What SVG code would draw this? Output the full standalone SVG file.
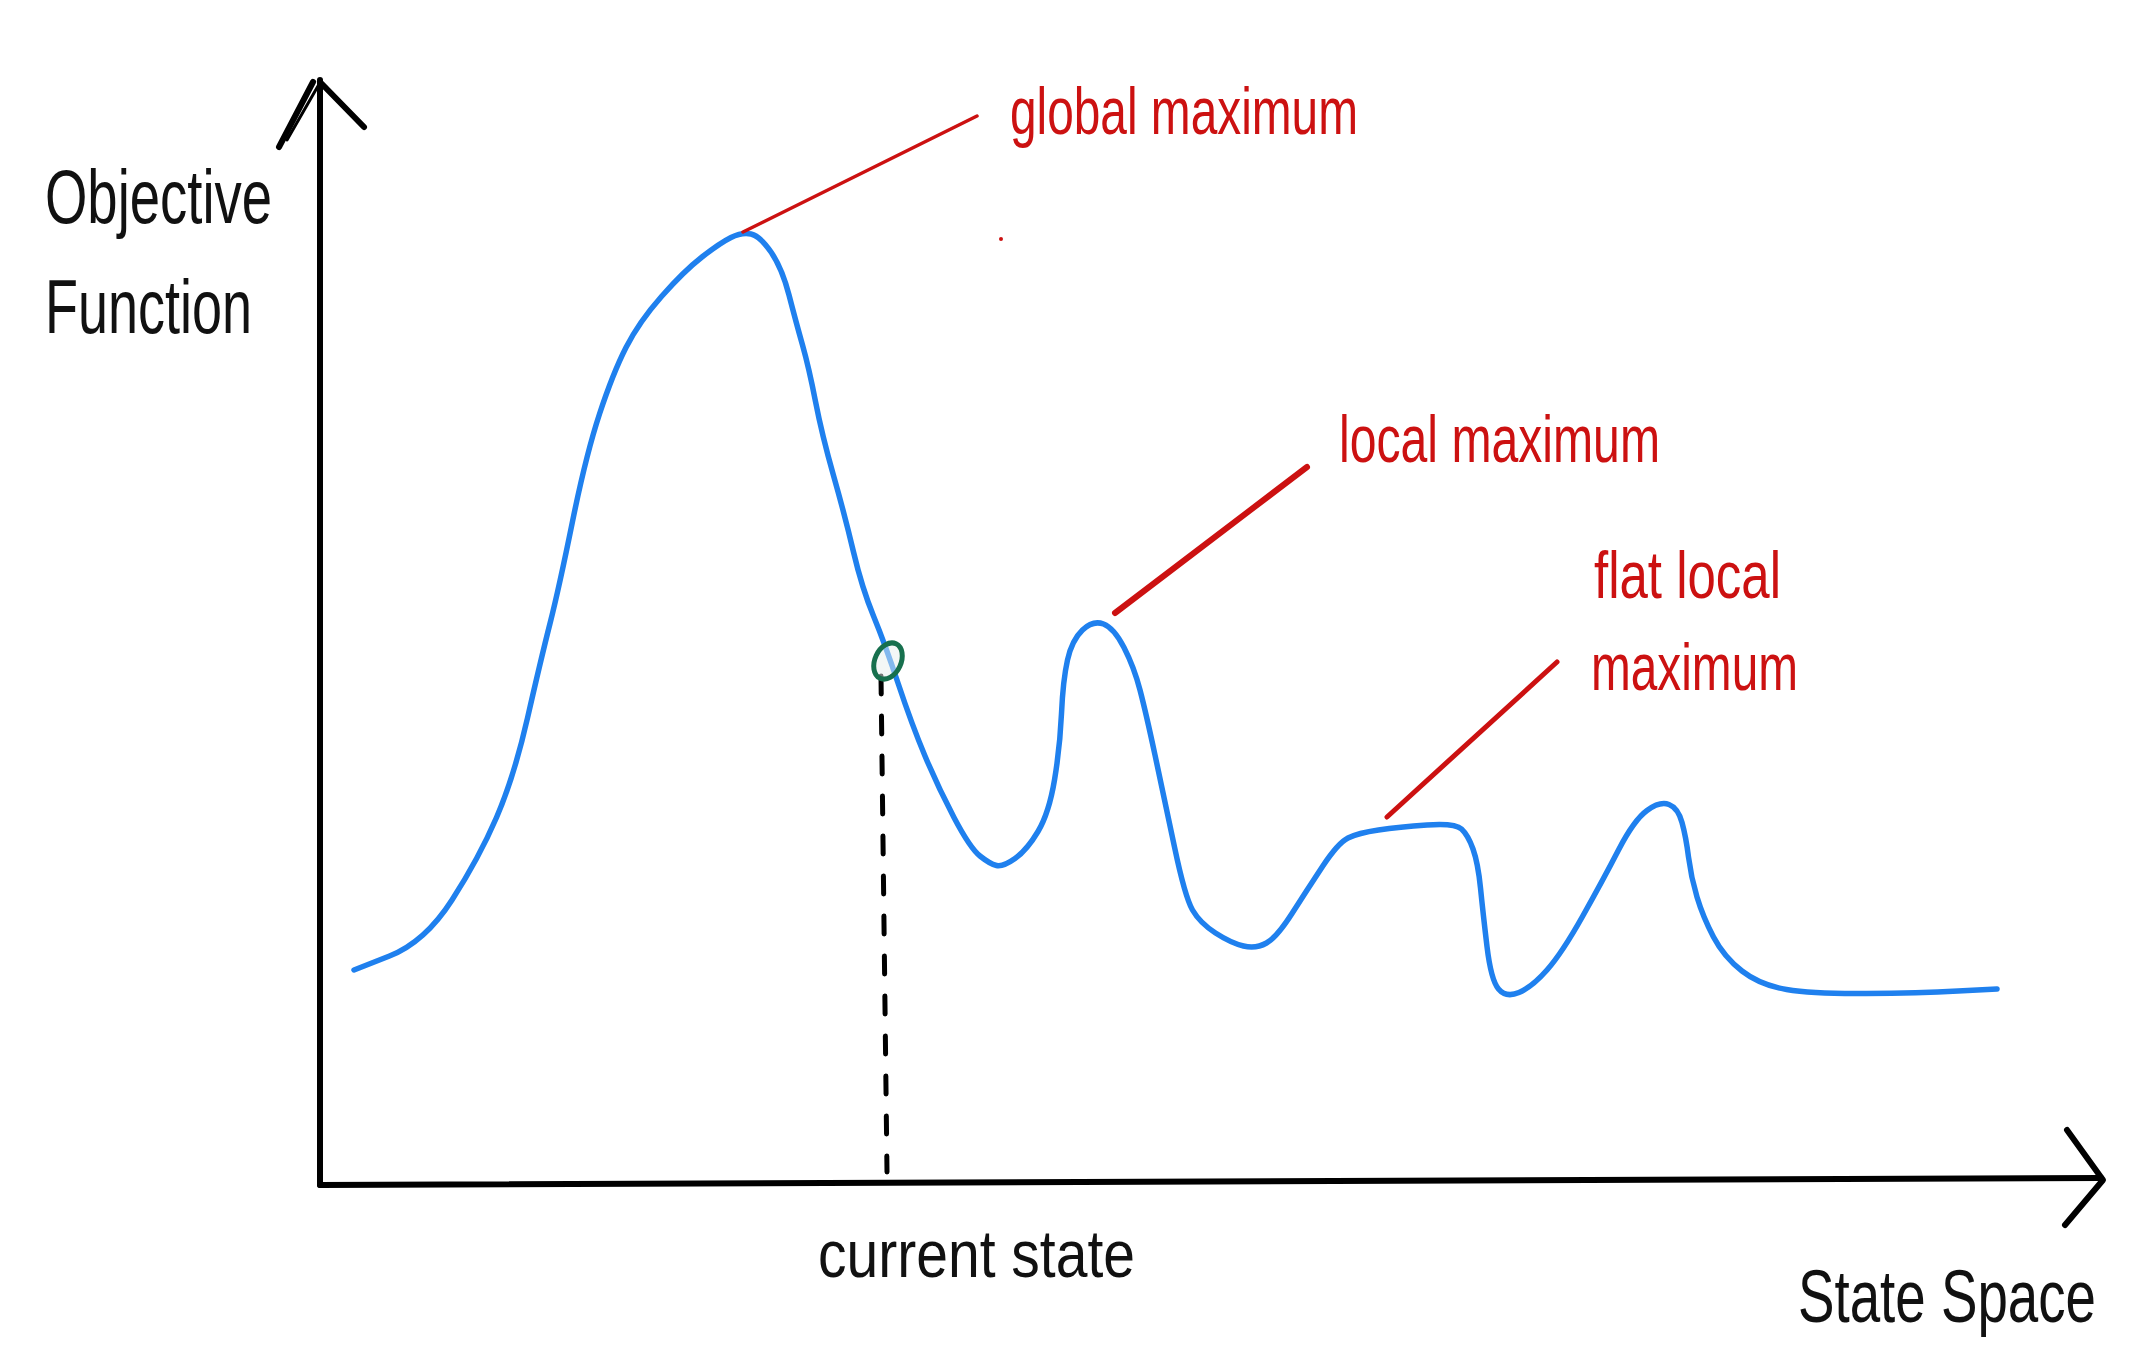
<svg xmlns="http://www.w3.org/2000/svg" width="2156" height="1354" viewBox="0 0 2156 1354">
<style>
.axis{fill:none;stroke:#000;stroke-width:6;stroke-linecap:round;stroke-linejoin:round}
.curve{fill:none;stroke:#1f80ee;stroke-width:5.5;stroke-linecap:round;stroke-linejoin:round}
.lead{fill:none;stroke:#cc1111;stroke-linecap:round}
.blk{font-family:"Liberation Sans Narrow","Liberation Sans",sans-serif;fill:#111}
.red{font-family:"Liberation Sans Narrow","Liberation Sans",sans-serif;fill:#cc1111}
</style>
<rect width="2156" height="1354" fill="#fff"/>
<g id="axes">
<path class="axis" d="M320,1185 L320,80"/>
<path class="axis" d="M313,82 L279,147"/>
<path d="M318,86 L287,140" fill="none" stroke="#000" stroke-width="3" stroke-linecap="round"/>
<path class="axis" d="M320,82 L364,127"/>
<path class="axis" d="M320,1185 L2101,1178"/>
<path class="axis" d="M2067,1130 L2103,1180 L2065,1225"/>
</g>
<g id="curve">
<path class="curve" d="M354,970 L389.5,956 Q425,942 452,900 Q479,858 496.5,817.5 Q514,777 527.5,718 Q541,659 550,623.5 Q559,588 572.5,521.5 Q586,455 599.5,414 Q613,373 626,347.5 Q639,322 661.5,296.5 Q684,271 702,257 Q720,243 731,237.5 Q742,232 751,234 Q760,236 771,252 Q782,268 789,295 Q796,322 802.5,345 Q809,368 815.5,401.5 Q822,435 833.5,475.5 Q845,516 853.5,552 Q862,588 873.5,616 Q885,644 898.5,684.5 Q912,725 925,756 Q938,787 954,817.5 Q970,848 980,856 Q990,864 996.5,865.5 Q1003,867 1015,858.5 Q1027,850 1038,831.5 Q1049,813 1054.5,780 Q1060,747 1061.5,713.5 Q1063,680 1067.5,660 Q1072,640 1082.5,630 Q1093,620 1103.5,624 Q1114,628 1124,647.5 Q1134,667 1140,690 Q1146,713 1155,755 Q1164,797 1174.5,847 Q1185,897 1192.5,910 Q1200,923 1215.5,933 Q1231,943 1243.5,946 Q1256,949 1266.5,943 Q1277,937 1292,913.5 Q1307,890 1322.5,866.5 Q1338,843 1348,838 Q1358,833 1378.5,830 Q1399,827 1427,825 Q1455,823 1461.5,829 Q1468,835 1473,849 Q1478,863 1480.5,888 Q1483,913 1487,946.5 Q1491,980 1498.5,989 Q1506,998 1519,992.5 Q1532,987 1547,970 Q1562,953 1582.5,916.5 Q1603,880 1618.5,850 Q1634,820 1647,810.5 Q1660,801 1669,804.5 Q1678,808 1682,822.5 Q1686,837 1688.5,857 Q1691,877 1697,897 Q1703,917 1713.5,937 Q1724,957 1742,971 Q1760,985 1786.5,989.5 Q1813,994 1866,993.5 Q1919,993 1958,991 L1997,989"/>
</g>
<g id="current-state-marker">
<line x1="881" y1="676" x2="887" y2="1172" stroke="#000" stroke-width="5" stroke-linecap="round" stroke-dasharray="18 22"/>
<ellipse cx="888" cy="661" rx="13" ry="19" transform="rotate(25 888 661)" fill="#e8f0ee" fill-opacity="0.5" stroke="#17704e" stroke-width="5"/>
</g>
<g id="connectors">
<line class="lead" x1="743" y1="232" x2="977" y2="116" stroke-width="3.5"/>
<line class="lead" x1="1115" y1="613" x2="1307" y2="467" stroke-width="6"/>
<line class="lead" x1="1387" y1="817" x2="1557" y2="662" stroke-width="5"/>
<circle cx="1001" cy="239" r="2" fill="#cc1111"/>
</g>
<g id="label-objective">
<text class="blk" x="45" y="223" font-size="76" textLength="227" lengthAdjust="spacingAndGlyphs">Objective</text>
<text class="blk" x="45" y="333" font-size="76" textLength="207" lengthAdjust="spacingAndGlyphs">Function</text>
</g>
<g id="label-global">
<text class="red" x="1010" y="134" font-size="66" textLength="348" lengthAdjust="spacingAndGlyphs">global maximum</text>
</g>
<g id="label-local">
<text class="red" x="1339" y="462" font-size="66" textLength="321" lengthAdjust="spacingAndGlyphs">local maximum</text>
</g>
<g id="label-flat">
<text class="red" x="1594" y="598" font-size="66" textLength="187" lengthAdjust="spacingAndGlyphs">flat local</text>
<text class="red" x="1591" y="690" font-size="66" textLength="207" lengthAdjust="spacingAndGlyphs">maximum</text>
</g>
<g id="label-current">
<text class="blk" x="818" y="1277" font-size="66" textLength="317" lengthAdjust="spacingAndGlyphs">current state</text>
</g>
<g id="label-statespace">
<text class="blk" x="2096" y="1322" font-size="74" text-anchor="end" textLength="298" lengthAdjust="spacingAndGlyphs">State Space</text>
</g>
</svg>
